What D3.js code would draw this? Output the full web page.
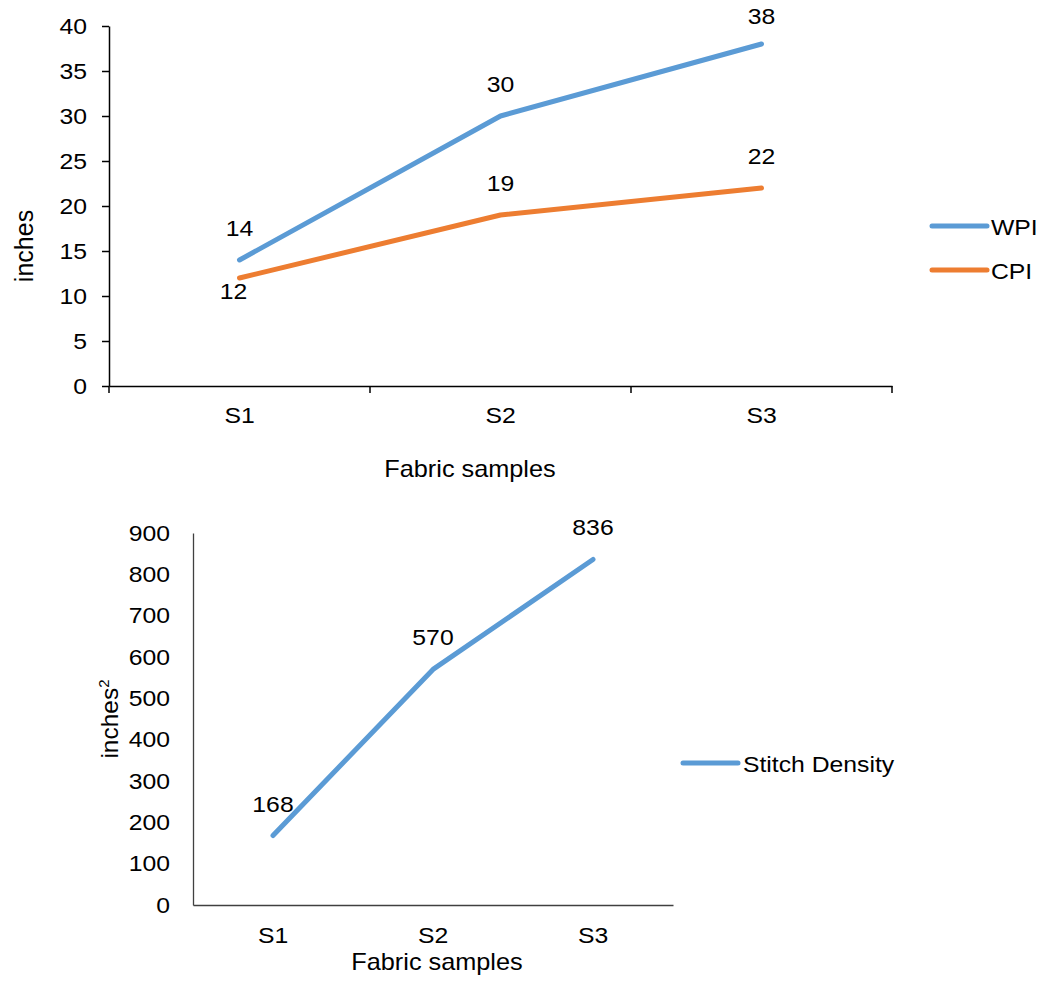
<!DOCTYPE html>
<html>
<head>
<meta charset="utf-8">
<script src="https://cdn.jsdelivr.net/npm/d3@7/dist/d3.min.js"></script>
<style>
  html, body { margin: 0; padding: 0; background: #fff; }
  svg { display: block; font-family: "Liberation Sans", Arial, sans-serif; }
  text { fill: #000; }
</style>
</head>
<body>
<svg id="chart" width="1043" height="986"></svg>
<script>
// ---- data ----
const categories = ["S1", "S2", "S3"];
const wpiValues = [14, 30, 38];
const cpiValues = [12, 19, 22];
const stitchDensityValues = [168, 570, 836];
const topYTicks = [0, 5, 10, 15, 20, 25, 30, 35, 40];
const bottomYTicks = [0, 100, 200, 300, 400, 500, 600, 700, 800, 900];
const topSeries = [
  { name: "WPI", values: wpiValues, color: "#5B9BD5" },
  { name: "CPI", values: cpiValues, color: "#ED7D31" }
];
const bottomSeries = [
  { name: "Stitch Density", values: stitchDensityValues, color: "#5B9BD5" }
];

// ---- styling ----
const SX = 1.1;       // horizontal glyph stretch of the reference
const FS = 22.5;      // base font size
const svg = d3.select("#chart");

function stext(g, x, y, str, anchor, fs) {
  return g.append("text")
    .attr("transform", `translate(${x},${y}) scale(${SX},1)`)
    .attr("text-anchor", anchor || "middle")
    .style("font-size", (fs || FS) + "px")
    .text(str);
}

// ================= TOP CHART =================
{
  const g = svg.append("g");
  const x = d3.scaleBand().domain(categories).range([109, 892]);
  const y = d3.scaleLinear().domain([0, 40]).range([386, 26]);

  const ya = g.append("g").attr("transform", `translate(${x.range()[0]},0)`)
    .call(d3.axisLeft(y).tickValues(topYTicks).tickSize(7).tickPadding(15).tickSizeOuter(0));
  ya.select(".domain").attr("stroke", "#000").attr("stroke-width", 1.5);
  ya.selectAll(".tick line").attr("stroke", "#000").attr("stroke-width", 1.5);
  ya.selectAll(".tick text")
    .attr("x", -22 / SX).attr("transform", `scale(${SX},1)`)
    .style("font-size", FS + "px").style("font-family", "inherit").attr("fill", "#000");

  const xa = g.append("g").attr("transform", `translate(0,${y(0)})`)
    .call(d3.axisBottom(x).tickSize(0).tickPadding(21).tickSizeOuter(0));
  xa.select(".domain").attr("stroke", "#000").attr("stroke-width", 1.5);
  xa.selectAll(".tick text")
    .attr("transform", `scale(${SX},1)`)
    .style("font-size", FS + "px").style("font-family", "inherit").attr("fill", "#000");
  const bounds = categories.map(c => x(c)).concat([x(categories[categories.length - 1]) + x.bandwidth()]);
  xa.selectAll(".btick").data(bounds).join("line")
    .attr("x1", d => d).attr("x2", d => d).attr("y1", 0).attr("y2", 7)
    .attr("stroke", "#000").attr("stroke-width", 1.5);

  const line = d3.line().x((d, i) => x(categories[i]) + x.bandwidth() / 2).y(d => y(d));
  topSeries.forEach(s => {
    g.append("path").datum(s.values).attr("d", line)
      .attr("fill", "none").attr("stroke", s.color).attr("stroke-width", 5)
      .attr("stroke-linecap", "round").attr("stroke-linejoin", "round");
  });

  topSeries.forEach((s, si) => {
    s.values.forEach((v, i) => {
      const cx = x(categories[i]) + x.bandwidth() / 2;
      const others = topSeries.filter((o, oi) => oi !== si).map(o => o.values[i]);
      const crowded = others.some(o => o > v && o - v < 3);
      if (crowded) stext(g, cx - 6, y(v) + 21, v);
      else stext(g, cx, Math.max(y(v) - 24, 24), v);
    });
  });

  g.append("text").attr("transform", `translate(33,246) rotate(-90)`)
    .attr("text-anchor", "middle").style("font-size", "25px").text("inches");
  stext(g, 470, 477, "Fabric samples", "middle", 23);

  topSeries.forEach((s, i) => {
    const ly = 226 + i * 44;
    g.append("line").attr("x1", 932).attr("x2", 987).attr("y1", ly).attr("y2", ly)
      .attr("stroke", s.color).attr("stroke-width", 5).attr("stroke-linecap", "round");
    stext(g, 991, ly + 9, s.name, "start");
  });
}

// ================= BOTTOM CHART =================
{
  const g = svg.append("g");
  const x = d3.scaleBand().domain(categories).range([193, 673]);
  const y = d3.scaleLinear().domain([0, 900]).range([905, 533]);
  const axisColor = "#404040";

  const ya = g.append("g").attr("transform", `translate(${x.range()[0]},0)`)
    .call(d3.axisLeft(y).tickValues(bottomYTicks).tickSize(0).tickPadding(23).tickSizeOuter(0));
  ya.select(".domain").attr("stroke", axisColor).attr("stroke-width", 1.3);
  ya.selectAll(".tick text")
    .attr("x", -23 / SX).attr("transform", `scale(${SX},1)`)
    .style("font-size", FS + "px").style("font-family", "inherit").attr("fill", "#000");

  const xa = g.append("g").attr("transform", `translate(0,${y(0)})`)
    .call(d3.axisBottom(x).tickSize(0).tickPadding(22).tickSizeOuter(0));
  xa.select(".domain").attr("stroke", axisColor).attr("stroke-width", 1.3);
  xa.selectAll(".tick text")
    .attr("transform", `scale(${SX},1)`)
    .style("font-size", FS + "px").style("font-family", "inherit").attr("fill", "#000");

  const line = d3.line().x((d, i) => x(categories[i]) + x.bandwidth() / 2).y(d => y(d));
  bottomSeries.forEach(s => {
    g.append("path").datum(s.values).attr("d", line)
      .attr("fill", "none").attr("stroke", s.color).attr("stroke-width", 5)
      .attr("stroke-linecap", "round").attr("stroke-linejoin", "round");
    s.values.forEach((v, i) => {
      stext(g, x(categories[i]) + x.bandwidth() / 2, y(v) - 24, v);
    });
  });

  const yt = g.append("text").attr("transform", `translate(118,719) rotate(-90)`)
    .attr("text-anchor", "middle").style("font-size", "24.5px");
  yt.append("tspan").text("inches");
  yt.append("tspan").attr("dy", -9).style("font-size", "15px").text("2");

  stext(g, 437, 970, "Fabric samples", "middle", 23);

  bottomSeries.forEach((s, i) => {
    const ly = 763 + i * 44;
    g.append("line").attr("x1", 683).attr("x2", 738).attr("y1", ly).attr("y2", ly)
      .attr("stroke", s.color).attr("stroke-width", 5).attr("stroke-linecap", "round");
    stext(g, 743, ly + 9, s.name, "start");
  });
}
</script>
</body>
</html>
